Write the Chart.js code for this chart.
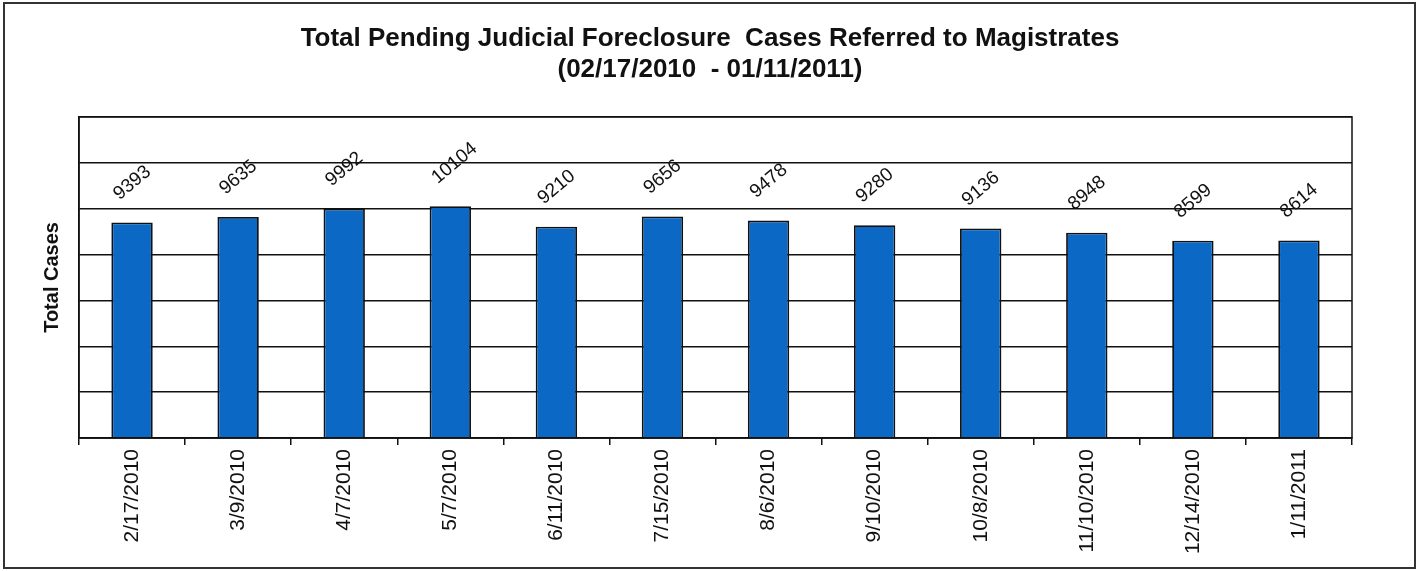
<!DOCTYPE html>
<html>
<head>
<meta charset="utf-8">
<script src="https://cdn.jsdelivr.net/npm/chart.js@4.4.0/dist/chart.umd.min.js"></script>
<style>
  html, body { margin: 0; padding: 0; background: #fff; }
  #wrap { width: 1420px; height: 571px; }
</style>
</head>
<body>
<div id="wrap"><canvas id="cases_cntxt" width="1420" height="571"></canvas></div>
<script>
// data
var dates = ["2/17/2010","3/9/2010","4/7/2010","5/7/2010","6/11/2010","7/15/2010",
             "8/6/2010","9/10/2010","10/8/2010","11/10/2010","12/14/2010","1/11/2011"];
var totalCases = [9393, 9635, 9992, 10104, 9210, 9656, 9478, 9280, 9136, 8948, 8599, 8614];
var yMax = 14000;
var yStep = 2000;

// outer frame + white background
var framePlugin = {
    id: 'frame',
    beforeDraw: function(chart) {
        var c = chart.ctx;
        c.save();
        c.fillStyle = '#fff';
        c.fillRect(0, 0, chart.width, chart.height);
        c.strokeStyle = '#333';
        c.lineWidth = 2;
        c.strokeRect(4, 3, 1411, 565);
        c.restore();
    },
    afterDraw: function(chart) {
        // plot area border
        var a = chart.chartArea, c = chart.ctx;
        c.save();
        c.strokeStyle = '#111';
        c.lineWidth = 1.5;
        c.strokeRect(a.left, a.top, a.right - a.left, a.bottom - a.top);
        c.restore();
    }
};

// slanted value labels above bars
var valueLabels = {
    id: 'valueLabels',
    afterDatasetsDraw: function(chart) {
        var c = chart.ctx;
        var meta = chart.getDatasetMeta(0);
        c.save();
        c.font = '19px "Liberation Sans", Arial, sans-serif';
        c.fillStyle = '#111';
        c.textAlign = 'left';
        c.textBaseline = 'middle';
        meta.data.forEach(function(bar, i) {
            c.save();
            c.translate(bar.x - 16, bar.y - 26);
            c.rotate(-40 * Math.PI / 180);
            c.fillText(String(totalCases[i]), 0, 0);
            c.restore();
        });
        c.restore();
    }
};

var current_cntxt = document.getElementById("cases_cntxt").getContext('2d');
var cases_chart = new Chart(current_cntxt, {
    type: 'bar',
    data: {
        labels: dates,
        datasets: [{
            label: 'Total Cases',
            data: totalCases,
            backgroundColor: '#0b68c4',
            borderColor: '#111',
            borderWidth: 1.8,
            categoryPercentage: 1.0,
            barPercentage: 0.39
        }]
    },
    options: {
        responsive: false,
        animation: false,
        layout: { padding: { left: 20, right: 20, top: 0, bottom: 0 } },
        plugins: {
            legend: { display: false },
            tooltip: { enabled: false },
            title: {
                display: true,
                text: ['Total Pending Judicial Foreclosure  Cases Referred to Magistrates',
                       '(02/17/2010  - 01/11/2011)'],
                color: '#111',
                font: { family: '"Liberation Sans", Arial, sans-serif', size: 26, weight: 'bold', lineHeight: 1.19 },
                padding: { top: 23, bottom: 32 }
            }
        },
        scales: {
            x: {
                offset: true,
                grid: {
                    offset: true,
                    color: 'rgba(0,0,0,0)',
                    tickColor: '#111',
                    tickLength: 7,
                    lineWidth: 1.5
                },
                border: { display: true, color: '#111', width: 1.5 },
                ticks: {
                    color: '#111',
                    minRotation: 90,
                    maxRotation: 90,
                    padding: 4,
                    font: { family: '"Liberation Sans", Arial, sans-serif', size: 21 }
                },
                afterFit: function(scale) { scale.height = 133; }
            },
            y: {
                min: 0,
                max: yMax,
                ticks: { display: false, stepSize: yStep },
                grid: { color: '#111', lineWidth: 1.5, drawTicks: false },
                border: { display: true, color: '#111', width: 1.5 },
                title: {
                    display: true,
                    text: 'Total Cases',
                    color: '#111',
                    font: { family: '"Liberation Sans", Arial, sans-serif', size: 20, weight: 'bold' },
                    padding: { top: 20, bottom: 0 }
                },
                afterFit: function(scale) { scale.width = 59; }
            },
            // empty spacer on the right so the plot ends where the reference does
            yRight: {
                position: 'right',
                ticks: { display: false },
                grid: { display: false },
                border: { display: false },
                afterFit: function(scale) { scale.width = 48; }
            }
        }
    },
    plugins: [framePlugin, valueLabels]
});
</script>
</body>
</html>
